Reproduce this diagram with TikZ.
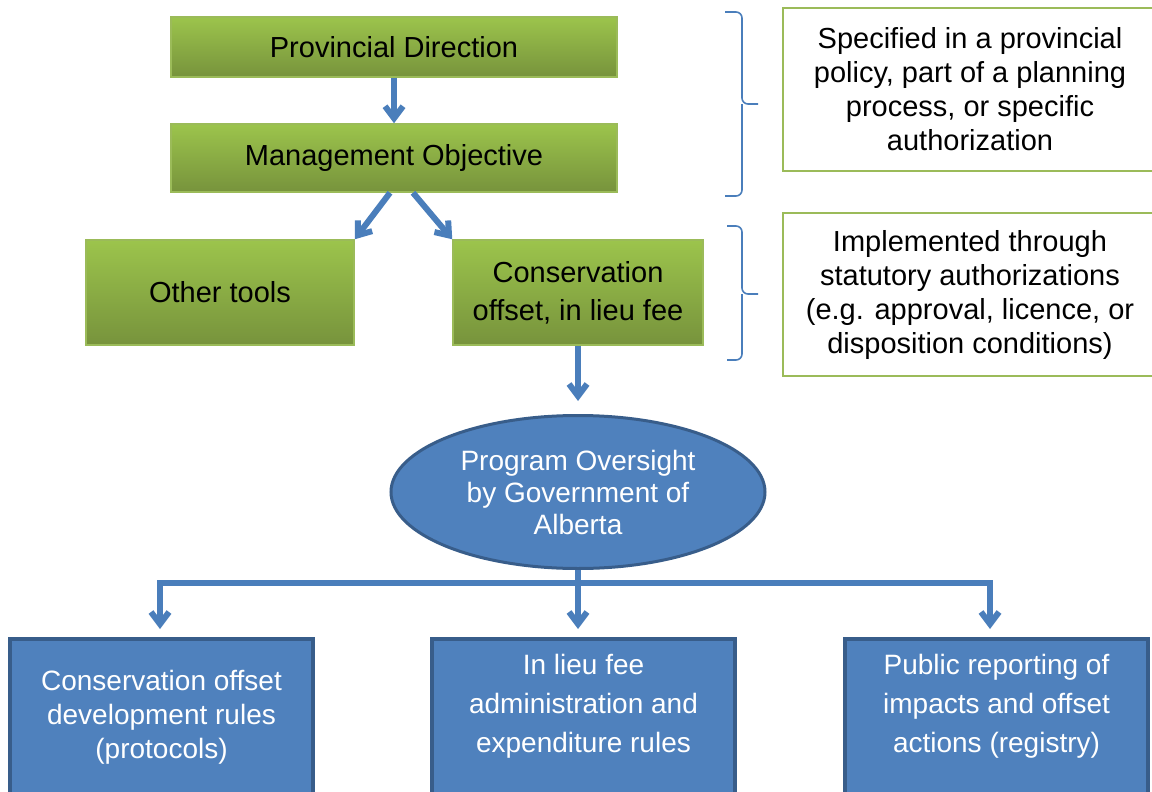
\documentclass[tikz,border=0pt]{standalone}
\usepackage{fontspec}
\setmainfont{Liberation Sans}
\usetikzlibrary{arrows.meta,shapes.geometric}
\definecolor{gtop}{RGB}{156,196,76}
\definecolor{gbot}{RGB}{119,147,60}
\definecolor{gline}{RGB}{155,187,89}
\definecolor{bfill}{RGB}{79,129,189}
\definecolor{bline}{RGB}{56,93,138}
\definecolor{arrc}{RGB}{74,126,187}
\begin{document}
\begin{tikzpicture}[x=1bp,y=-1bp,
  gbox/.style={rectangle, draw=gline, line width=1.5bp, top color=gtop, bottom color=gbot,
    inner sep=0pt, align=center, font=\fontsize{29bp}{38bp}\selectfont},
  wbox/.style={rectangle, draw=gline, line width=2bp, fill=white, inner sep=0pt,
    align=center, font=\fontsize{29bp}{34bp}\selectfont},
  bbox/.style={rectangle, draw=bline, line width=4bp, fill=bfill, inner sep=0pt,
    minimum width=303bp, minimum height=180bp, anchor=north},
  btext/.style={text=white, align=center, inner sep=0pt},
  oval/.style={ellipse, draw=bline, line width=3bp, fill=bfill, inner sep=0pt,
    minimum width=374bp, minimum height=153bp, text=white, align=center,
    font=\fontsize{28bp}{32bp}\selectfont},
  arr/.style={draw=arrc, line width=6bp, -{Straight Barb[length=12bp,width=18bp]}},
  conn/.style={draw=arrc, line width=6bp},
  bracepath/.style={draw=arrc, line width=1.6bp, rounded corners=6bp}
]
\useasboundingbox (0,0) rectangle (1152,792);
\clip (0,0) rectangle (1152,792);

% green boxes
\node[gbox, minimum width=446bp, minimum height=60bp] (pd) at (394,47) {Provincial Direction};
\node[gbox, minimum width=446bp, minimum height=68bp] (mo) at (394,158) {Management Objective};
\node[gbox, minimum width=268bp, minimum height=105bp] (ot) at (220,292.5) {Other tools};
\node[gbox, minimum width=250bp, minimum height=105bp] (co) at (578,292.5) {Conservation\\offset, in lieu fee};

% right boxes
\node[wbox, minimum width=374bp, minimum height=163bp] (sp) at (970,89.5)
  {Specified in a provincial\\policy, part of a planning\\process, or specific\\authorization};
\node[wbox, minimum width=374bp, minimum height=163bp] (im) at (970,294.5)
  {Implemented through\\statutory authorizations\\(e.g. approval, licence, or\\disposition conditions)};

% braces
\draw[bracepath] (725,12) -- (742,12) -- (742,104) -- (758,104);
\draw[bracepath] (725,196) -- (742,196) -- (742,104);
\draw[bracepath] (727,226) -- (742,226) -- (742,294) -- (758,294);
\draw[bracepath] (727,360) -- (742,360) -- (742,294);

% ellipse
\node[oval] (ov) at (578,492) {Program Oversight\\by Government of\\Alberta};

% blue boxes
\node[bbox] (b1) at (161.5,637) {};
\node[bbox] (b2) at (583.5,637) {};
\node[bbox] (b3) at (996.5,637) {};
\node[btext, font=\fontsize{28bp}{34bp}\selectfont] (b1t) at (161.5,717)
  {Conservation offset\\development rules\\(protocols)};
\node[btext, font=\fontsize{28bp}{39bp}\selectfont] (b2t) at (583.5,706)
  {In lieu fee\\administration and\\expenditure rules};
\node[btext, font=\fontsize{28bp}{39bp}\selectfont] (b3t) at (996.5,706)
  {Public reporting of\\impacts and offset\\actions (registry)};

% arrows
\draw[arr] (pd.south) -- (mo.north);
\draw[arr] ([xshift=-4bp]mo.south) -- (ot.north east);
\draw[arr] ([xshift=19bp]mo.south) -- (co.north west);
\draw[arr] (co.south) -- ([yshift=13bp]ov.north);

\coordinate (j) at (578,583);
\coordinate (jl) at (160,583);
\coordinate (jr) at (990,583);
\coordinate (t1) at (160,629);
\coordinate (t2) at (578,629);
\coordinate (t3) at (990,629);
\draw[conn] (ov.south) -- (j);
\draw[conn] ([xshift=-3bp]jl) -- ([xshift=3bp]jr);
\draw[arr] (jl) -- (t1);
\draw[arr] (j) -- (t2);
\draw[arr] (jr) -- (t3);
\end{tikzpicture}
\end{document}
